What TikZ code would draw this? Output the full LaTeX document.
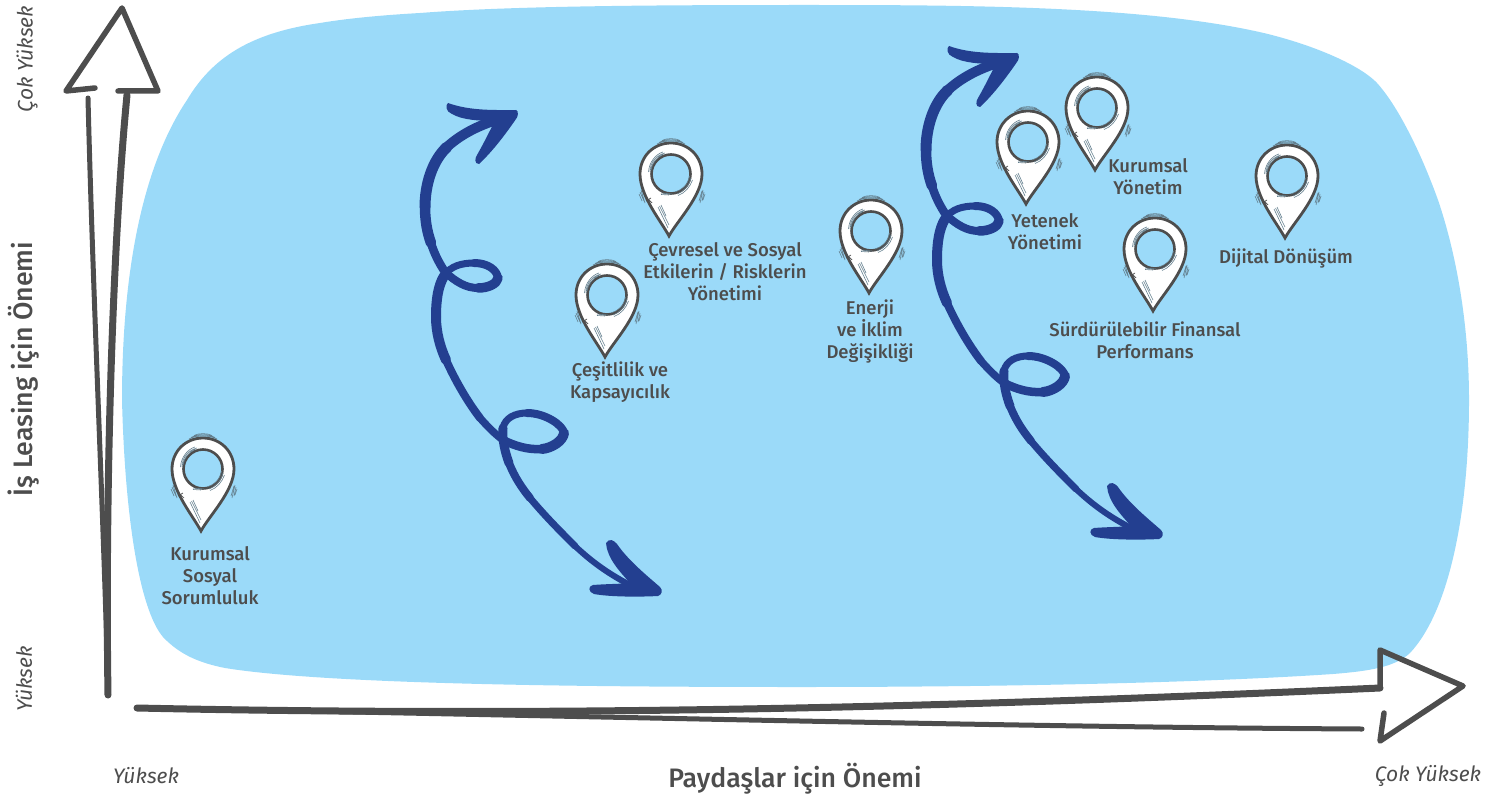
\documentclass[tikz,border=0pt]{standalone}
\usepackage{fontspec}
\setmainfont{Fira Sans}
\newfontfamily\medfont{Fira Sans Medium}
\usetikzlibrary{calc}
\definecolor{blob}{HTML}{9BDAF9}
\definecolor{ink}{HTML}{4D4D4D}
\definecolor{navy}{HTML}{233F90}
\definecolor{hatch}{HTML}{64808F}
\tikzset{
  x=1pt,y=-1pt,
  lbl/.style={text=ink,align=center,font=\medfont\fontsize{18.5}{22}\selectfont,inner sep=0pt},
  axlbl/.style={text=ink,font=\medfont\fontsize{26.7}{30}\selectfont,inner sep=0pt},
  endlbl/.style={text=ink,font=\itshape\fontsize{21}{24}\selectfont,inner sep=0pt},
  axisline/.style={draw=ink,line width=5.5pt,line cap=round,line join=round},
  swirl/.style={draw=navy,line cap=round,line join=round},
  pin/.pic={
    \draw[hatch,line width=.6pt] (-12,-92) .. controls (-5,-96) and (9,-96) .. (16,-92)
      (-10,-93.5) .. controls (-4,-97) and (8,-97) .. (14,-93.5)
      (-7,-95.5) .. controls (-3,-98) and (7,-98) .. (11,-95.5);
    \draw[hatch,line width=.6pt] (-29,-44) -- (-25,-35) (-28,-46) -- (-24,-33) (-30,-42) -- (-27,-35)
      (33,-45) -- (30,-35) (34,-46) -- (31,-33) (35,-44) -- (33,-35) (36,-42) -- (34,-36);
    \draw[ink,fill=white,line width=2.8pt,line join=miter]
      (0,0) .. controls (-8,-15) and (-29,-40) .. (-29,-62)
      .. controls (-29,-80) and (-15,-93) .. (2,-93)
      .. controls (19,-93) and (33,-80) .. (33,-62)
      .. controls (33,-40) and (8,-15) .. (0,0) -- cycle;
    \draw[ink,fill=blob,line width=2.6pt] (2,-62) circle (19.5);
    \draw[hatch,line width=.6pt] (-19,-64) .. controls (-19,-74) and (-12,-81) .. (-4,-83)
      (-20.5,-64) .. controls (-20,-74) and (-13,-82) .. (-6,-84)
      (-18,-66) .. controls (-17,-73) and (-12,-79) .. (-6,-81.5);
    \draw[hatch,line width=.6pt] (8,-42) .. controls (14,-44) and (20,-50) .. (22,-58)
      (9,-40.5) .. controls (16,-43) and (21,-49) .. (23.5,-56)
      (6,-44) .. controls (13,-46) and (19,-51) .. (20.5,-60)
      (-8,-43) -- (3,-42) (-8,-41.5) -- (0,-41);
    \draw[hatch,line width=.6pt] (-11,-29) -- (-1,-8) (-9.5,-30) -- (0,-11) (-8,-31) -- (-3,-20);
    \draw[ink,line width=.7pt] (-21,-37) -- (-17,-33) (-23,-35) -- (-18,-38);
  },
  swirlarrow/.pic={
    % head, top
    \fill[navy] (448,103) .. controls (470,111) and (495,110) .. (516,110)
      .. controls (519,111) and (518,117) .. (516,119)
      .. controls (505,135) and (492,152) .. (479,164)
      .. controls (474,164) and (475,158) .. (477,155)
      .. controls (484,143) and (490,130) .. (495,121)
      .. controls (480,121) and (462,120) .. (452,114)
      .. controls (446,112) and (445,105) .. (448,103) -- cycle;
    % upper shaft
    \draw[swirl,line width=10pt] (508,117) .. controls (485,122) and (462,133) .. (447,147);
    \draw[swirl,line width=11pt] (447,147) .. controls (432,161) and (425,185) .. (425,207);
    \draw[swirl,line width=10.5pt] (425,207) .. controls (425,220) and (427,232) .. (431,243);
    \draw[swirl,line width=8.5pt] (431,243) .. controls (434,253) and (439,263) .. (445,272);
    % first loop
    \draw[swirl,line width=8pt] (445,272) .. controls (456,282) and (466,288) .. (478,288);
    \draw[swirl,line width=9.5pt] (478,288) .. controls (488,288) and (497,284) .. (498,278);
    \draw[swirl,line width=8pt] (498,278) .. controls (497,270) and (488,263) .. (474,263);
    \draw[swirl,line width=7pt] (474,263) .. controls (462,263) and (450,266) .. (444,276);
    % middle shaft
    \draw[swirl,line width=10pt] (444,276) .. controls (438,286) and (436,300) .. (436,317);
    \draw[swirl,line width=10pt] (436,317) .. controls (436,332) and (440,347) .. (446,360);
    \draw[swirl,line width=8pt] (446,360) .. controls (455,380) and (467,401) .. (480,418);
    \draw[swirl,line width=7.5pt] (480,418) .. controls (488,427) and (495,434) .. (503,440);
    % second loop
    \draw[swirl,line width=8.5pt] (503,440) .. controls (515,446) and (528,450) .. (542,449);
    \draw[swirl,line width=10pt] (542,449) .. controls (552,448) and (563,441) .. (564,433);
    \draw[swirl,line width=8pt] (564,433) .. controls (563,425) and (545,413) .. (527,413);
    \draw[swirl,line width=7pt] (527,413) .. controls (515,413) and (505,418) .. (503,428);
    % lower shaft
    \draw[swirl,line width=9pt] (503,428) .. controls (502,440) and (505,452) .. (509,463);
    \draw[swirl,line width=8pt] (509,463) .. controls (515,478) and (522,488) .. (530,498);
    \draw[swirl,line width=7pt] (530,498) .. controls (545,516) and (560,531) .. (575,546);
    \draw[swirl,line width=6pt] (575,546) .. controls (595,565) and (615,578) .. (640,590);
    % head, bottom
    \fill[navy] (606,543) .. controls (609,538) and (614,540) .. (617,544)
      .. controls (628,560) and (645,574) .. (660,587)
      .. controls (663,590) and (662,595) .. (658,596)
      .. controls (640,597) and (610,597) .. (594,594)
      .. controls (588,592) and (588,586) .. (593,585)
      .. controls (605,584) and (620,584) .. (630,583)
      .. controls (620,572) and (607,558) .. (606,543) -- cycle;
  }
}
\begin{document}
\begin{tikzpicture}
\useasboundingbox (0,0) rectangle (1503,797);
\fill[blob] (163,637) .. controls (140,610) and (125,520) .. (122,400)
  .. controls (122,280) and (140,170) .. (187,100)
  .. controls (212,58) and (250,33) .. (320,23)
  .. controls (350,18) and (385,15) .. (420,13)
  .. controls (510,6) and (650,5) .. (800,5)
  .. controls (950,5) and (1130,5) .. (1250,30)
  .. controls (1300,40) and (1357,62) .. (1377,83)
  .. controls (1397,105) and (1420,150) .. (1438,200)
  .. controls (1455,250) and (1469,320) .. (1469,400)
  .. controls (1469,510) and (1450,610) .. (1410,653)
  .. controls (1395,667) and (1370,671) .. (1333,674)
  .. controls (1200,683) and (1000,687) .. (800,687)
  .. controls (600,687) and (330,685) .. (225,668)
  .. controls (200,663) and (180,655) .. (163,637) -- cycle;

% axes
\coordinate (vbase) at (108,695);
\coordinate (vleft) at (88,98);
\coordinate (vright) at (127,95);
\coordinate (vtip) at (122,8);
\coordinate (vcl) at (66,91);
\coordinate (vcr) at (158,91);
\coordinate (vil) at (95,88);
\coordinate (vir) at (118,91);
\draw[draw=ink,line width=5pt,line cap=round] (vleft) .. controls (93,300) and (105,550) .. (vbase);
\draw[draw=ink,line width=7pt,line cap=round] (vright) .. controls (112,250) and (105,500) .. (vbase);
\draw[axisline] (vil) -- (vcl) -- (vtip) -- (vcr) -- (vir);

\coordinate (hbase) at (137,708);
\coordinate (htop) at (1380,688);
\coordinate (hlow) at (1362,729);
\coordinate (hc1) at (1380,650);
\coordinate (htip) at (1463,686);
\coordinate (hc2) at (1380,741);
\coordinate (hend) at (1384,713);
\draw[draw=ink,line width=7pt,line cap=round] (hbase) .. controls (600,718) and (1000,705) .. (htop);
\draw[draw=ink,line width=5pt,line cap=round] (hbase) .. controls (600,716) and (1000,727) .. (hlow);
\draw[axisline] (htop) -- (hc1) -- (htip) -- (hc2) -- (hend);

% swirl arrows
\pic at (0,0) {swirlarrow};
\pic at (501,-57) {swirlarrow};

% pins
\pic at (669,236) {pin};
\pic at (605,357) {pin};
\pic at (869,293) {pin};
\pic at (1026,204) {pin};
\pic at (1095,170) {pin};
\pic at (1153,311) {pin};
\pic at (1285,238) {pin};
\pic at (201,531) {pin};

% labels
\node[lbl] (cevre) at (725,272) {Çevresel ve Sosyal\\Etkilerin / Risklerin\\Yönetimi};
\node[lbl] (cesit) at (620,382.5) {Çeşitlilik ve\\Kapsayıcılık};
\node[lbl] (enerji) at (870,331.5) {Enerji\\ve İklim\\Değişikliği};
\node[lbl] (yetenek) at (1045,232) {Yetenek\\Yönetimi};
\node[lbl] (kurumsal) at (1148,177) {Kurumsal\\Yönetim};
\node[lbl] (surdur) at (1145,340) {Sürdürülebilir Finansal\\Performans};
\node[lbl] (dijital) at (1286,258) {Dijital Dönüşüm};
\node[lbl] (kss) at (210,575.5) {Kurumsal\\Sosyal\\Sorumluluk};

\node[axlbl] (xaxis) at (795,779) {Paydaşlar için Önemi};
\node[axlbl,rotate=90] (yaxis) at (24,369) {İş Leasing için Önemi};
\node[endlbl] (xlo) at (146,776) {Yüksek};
\node[endlbl] (xhi) at (1428,776) {Çok Yüksek};
\node[endlbl,rotate=90] (ylo) at (24,679) {Yüksek};
\node[endlbl,rotate=90] (yhi) at (27,59) {Çok Yüksek};
\end{tikzpicture}
\end{document}
